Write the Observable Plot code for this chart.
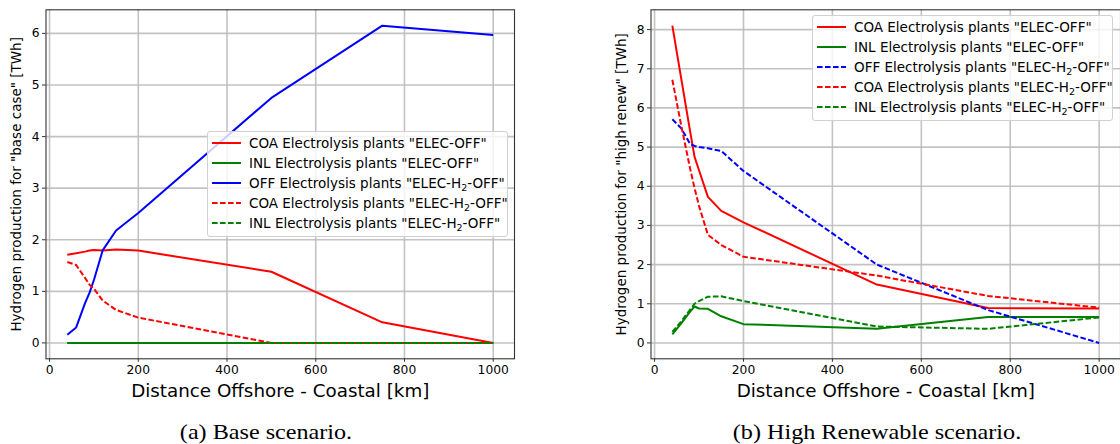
<!DOCTYPE html>
<html>
<head>
<meta charset="utf-8">
<script src="https://cdn.jsdelivr.net/npm/d3@7"></script>
<script src="https://cdn.jsdelivr.net/npm/@observablehq/plot@0.6"></script>
<style>
  html, body { margin: 0; padding: 0; background: #fff; }
  #wrap { position: relative; width: 1120px; height: 444px; overflow: hidden; font-family: "DejaVu Sans", sans-serif; }
  .panel { position: absolute; top: 0; }
  .legend { position: absolute; box-sizing: border-box; background: rgba(255,255,255,0.8); border: 1px solid #d0d0d0; border-radius: 3px; padding: 1px 0 0 4px; font-size: 13.5px; color: #000; }
  .legend .row { height: 20px; display: flex; align-items: center; white-space: nowrap; }
  .legend svg { width: 29px; height: 10px; margin-right: 8px; flex: none; }
  .legend sub { font-size: 9.5px; vertical-align: -3px; line-height: 0; }
  .caption { position: absolute; top: 419px; font-family: "Liberation Serif", serif; font-size: 21px; line-height: 26px; color: #000; transform: translateX(-50%) scaleX(1.15); white-space: nowrap; }
</style>
</head>
<body>
<div id="wrap"></div>
<script>
// ---- data ----
const distance = [40, 60, 80, 90, 100, 120, 150, 200, 500, 750, 1000];
const xTicks = [0, 200, 400, 600, 800, 1000];
const baseYTicks = [0, 1, 2, 3, 4, 5, 6];
const highYTicks = [0, 1, 2, 3, 4, 5, 6, 7, 8];

// (a) Base scenario
const baseCoaElecOff   = [1.71, 1.74, 1.77, 1.79, 1.80, 1.79, 1.81, 1.79, 1.38, 0.40, 0.00];
const baseInlElecOff   = [0, 0, 0, 0, 0, 0, 0, 0, 0, 0, 0];
const baseOffElecH2Off = [0.16, 0.30, 0.77, 0.97, 1.22, 1.80, 2.18, 2.52, 4.75, 6.15, 5.97];
const baseCoaElecH2Off = [1.57, 1.51, 1.26, 1.13, 1.05, 0.82, 0.64, 0.49, 0.00, 0.00, 0.00];
const baseInlElecH2Off = [0, 0, 0, 0, 0, 0, 0, 0, 0, 0, 0];

// (b) High Renewable scenario
const highCoaElecOff   = [8.10, 6.75, 5.40, 4.75, 4.41, 3.73, 3.37, 3.08, 1.49, 0.89, 0.88];
const highInlElecOff   = [0.22, 0.50, 0.80, 0.93, 0.88, 0.87, 0.68, 0.48, 0.36, 0.66, 0.66];
const highOffElecH2Off = [5.71, 5.48, 5.08, 5.03, 5.00, 4.97, 4.90, 4.39, 2.00, 0.84, 0.00];
const highCoaElecH2Off = [6.72, 5.55, 4.45, 3.95, 3.50, 2.76, 2.50, 2.20, 1.72, 1.20, 0.90];
const highInlElecH2Off = [0.28, 0.55, 0.85, 1.00, 1.07, 1.18, 1.19, 1.07, 0.42, 0.36, 0.65];

const xTitle = "Distance Offshore - Coastal [km]";
const baseYLabel = 'Hydrogen production for "base case" [TWh]';
const highYLabel = 'Hydrogen production for "high renew" [TWh]';
const captions = ["(a) Base scenario.", "(b) High Renewable scenario."];

const RED = "#ff0000", GREEN = "#008000", BLUE = "#0000ff";
const DASH = "5.6,2.4";

const baseSeries = [
  {name: 'COA Electrolysis plants "ELEC-OFF"', sub: false, values: baseCoaElecOff, color: RED, dashed: false},
  {name: 'INL Electrolysis plants "ELEC-OFF"', sub: false, values: baseInlElecOff, color: GREEN, dashed: false},
  {name: 'OFF Electrolysis plants "ELEC-H2-OFF"', sub: true, values: baseOffElecH2Off, color: BLUE, dashed: false},
  {name: 'COA Electrolysis plants "ELEC-H2-OFF"', sub: true, values: baseCoaElecH2Off, color: RED, dashed: true},
  {name: 'INL Electrolysis plants "ELEC-H2-OFF"', sub: true, values: baseInlElecH2Off, color: GREEN, dashed: true}
];
const highSeries = [
  {name: 'COA Electrolysis plants "ELEC-OFF"', sub: false, values: highCoaElecOff, color: RED, dashed: false},
  {name: 'INL Electrolysis plants "ELEC-OFF"', sub: false, values: highInlElecOff, color: GREEN, dashed: false},
  {name: 'OFF Electrolysis plants "ELEC-H2-OFF"', sub: true, values: highOffElecH2Off, color: BLUE, dashed: true},
  {name: 'COA Electrolysis plants "ELEC-H2-OFF"', sub: true, values: highCoaElecH2Off, color: RED, dashed: true},
  {name: 'INL Electrolysis plants "ELEC-H2-OFF"', sub: true, values: highInlElecH2Off, color: GREEN, dashed: true}
];

function panel({series, yDomain, yTicks, yLabel, marginLeft, marginRight}) {
  const lines = series.map(s => Plot.line(
    distance.map((d, i) => ({x: d, y: s.values[i]})),
    {x: "x", y: "y", stroke: s.color, strokeWidth: 2, strokeDasharray: s.dashed ? DASH : null, strokeLinecap: "butt", strokeLinejoin: "round"}
  ));
  return Plot.plot({
    width: 560, height: 410,
    marginLeft, marginRight, marginTop: 9.3, marginBottom: 51.7,
    x: {domain: [-8, 1048], label: null},
    y: {domain: yDomain, label: null},
    style: {fontFamily: "DejaVu Sans", fontSize: "12.3px", color: "#000", background: "transparent", overflow: "visible"},
    marks: [
      Plot.gridX(xTicks, {stroke: "#b8b8b8", strokeOpacity: 0.85, strokeWidth: 1.6}),
      Plot.gridY(yTicks, {stroke: "#b8b8b8", strokeOpacity: 0.85, strokeWidth: 1.6}),
      ...lines,
      Plot.frame({stroke: "#333", strokeWidth: 1.1}),
      Plot.axisX(xTicks, {tickSize: 3.5, tickPadding: 3, tickFormat: d => String(d), label: null, stroke: "#333", fontSize: 12.3}),
      Plot.axisY(yTicks, {tickSize: 3.5, tickPadding: 3, tickFormat: d => String(d), label: null, stroke: "#333", fontSize: 12.3}),
      Plot.text([xTitle], {frameAnchor: "bottom", dy: 38.5, fontSize: 18.3, fill: "#000"}),
      Plot.text([yLabel], {frameAnchor: "left", textAnchor: "middle", rotate: -90, dx: -29, fontSize: 13.5, fill: "#000"})
    ]
  });
}

function legend(series, left, top) {
  const div = document.createElement("div");
  div.className = "legend";
  div.style.left = left + "px";
  div.style.top = top + "px";
  div.style.width = "301px";
  div.style.height = "106px";
  for (const s of series) {
    const row = document.createElement("div");
    row.className = "row";
    const dash = s.dashed ? ` stroke-dasharray="${DASH}"` : "";
    const label = s.sub ? s.name.replace("H2", "H<sub>2</sub>") : s.name;
    row.innerHTML = `<svg viewBox="0 0 29 10"><line x1="0" y1="5" x2="29" y2="5" stroke="${s.color}" stroke-width="2"${dash}/></svg><span>${label}</span>`;
    div.appendChild(row);
  }
  return div;
}

const wrap = document.getElementById("wrap");

const p1 = panel({series: baseSeries, yDomain: [-0.3075, 6.4575], yTicks: baseYTicks, yLabel: baseYLabel, marginLeft: 45.5, marginRight: 46});
p1.classList.add("panel"); p1.style.left = "0px";
wrap.appendChild(p1);

const p2 = panel({series: highSeries, yDomain: [-0.405, 8.505], yTicks: highYTicks, yLabel: highYLabel, marginLeft: 90.5, marginRight: 0});
p2.classList.add("panel"); p2.style.left = "560px";
wrap.appendChild(p2);

wrap.appendChild(legend(baseSeries, 207, 131));
wrap.appendChild(legend(highSeries, 812, 15));

[[266, captions[0]], [877, captions[1]]].forEach(([cx, t]) => {
  const c = document.createElement("div");
  c.className = "caption";
  c.style.left = cx + "px";
  c.textContent = t;
  wrap.appendChild(c);
});
</script>
</body>
</html>
